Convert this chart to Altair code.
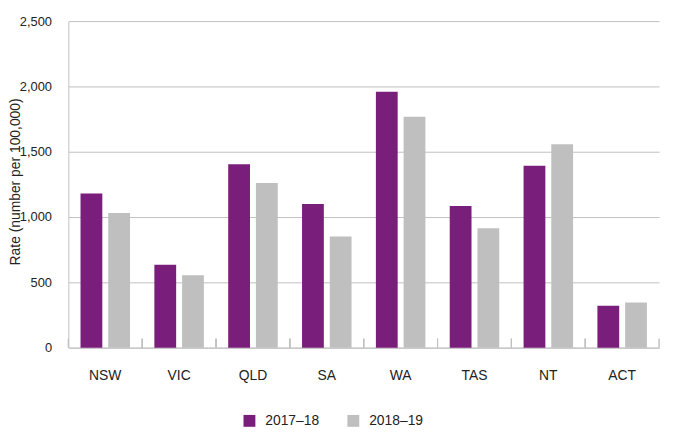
import altair as alt
import pandas as pd

states = ["NSW", "VIC", "QLD", "SA", "WA", "TAS", "NT", "ACT"]
years = ["2017–18", "2018–19"]
rate_2017_18 = [1180, 635, 1405, 1100, 1960, 1085, 1392, 320]
rate_2018_19 = [1030, 555, 1260, 850, 1768, 915, 1558, 345]
y_ticks = [0, 500, 1000, 1500, 2000, 2500]
colors = ["#7a1e7b", "#bfbfbf"]

rows = []
for s, a, b in zip(states, rate_2017_18, rate_2018_19):
    rows.append({"state": s, "year": years[0], "rate": a})
    rows.append({"state": s, "year": years[1], "rate": b})
df = pd.DataFrame(rows)

W, H = 597, 330
GRID = "#c0c0c0"
TXT = "#222222"

xscale = alt.Scale(domain=states, paddingInner=0, paddingOuter=0)
xaxis = alt.Axis(title=None, labelAngle=0, labelFontSize=14, labelPadding=21,
                 ticks=False, domainColor=GRID, labelColor=TXT, grid=False)

bars = alt.Chart(df).mark_bar().encode(
    x=alt.X("state:N", scale=xscale, sort=states, axis=xaxis),
    xOffset=alt.XOffset("year:N", sort=years,
                        scale=alt.Scale(domain=years, paddingInner=0.214, paddingOuter=0.439)),
    y=alt.Y("rate:Q", scale=alt.Scale(domain=[0, 2500], nice=False),
            axis=alt.Axis(values=y_ticks, format=",.0f", title="Rate (number per 100,000)",
                          titleFontSize=14, titleFontWeight="normal", titleColor=TXT,
                          titleX=-49, titleY=H / 2 - 3, titleAngle=270,
                          titleBaseline="alphabetic",
                          labelFont="Liberation Sans Narrow, Arial Narrow, Liberation Sans",
                          labelFontSize=13, labelColor=TXT, labelPadding=17,
                          ticks=False, domainColor=GRID, gridColor=GRID, grid=True)),
    color=alt.Color("year:N", sort=years, scale=alt.Scale(domain=years, range=colors),
                    legend=alt.Legend(title=None, orient="none", legendX=176, legendY=397,
                                      direction="horizontal", symbolType="square",
                                      symbolSize=144, symbolStrokeWidth=0, labelFontSize=14,
                                      labelColor=TXT, labelOffset=9, columnPadding=27,
                                      padding=0)),
)

ticks_left = alt.Chart(df).mark_rule(color=GRID).encode(
    x=alt.X("state:N", scale=xscale, sort=states, bandPosition=0, axis=xaxis),
    y=alt.value(H - 9),
    y2=alt.value(H),
)
ticks_right = alt.Chart(df).mark_rule(color=GRID).encode(
    x=alt.X("state:N", scale=xscale, sort=states, bandPosition=1, axis=xaxis),
    y=alt.value(H - 9),
    y2=alt.value(H),
)

chart = alt.layer(bars, ticks_left, ticks_right).properties(
    width=W, height=H,
    autosize=alt.AutoSizeParams(type="none"),
    padding={"left": 61, "top": 11, "right": 8, "bottom": 83},
).configure(
    font="Liberation Sans"
).configure_view(stroke=None)

chart.save("out.html", embed_options={"renderer": "svg", "actions": False})
